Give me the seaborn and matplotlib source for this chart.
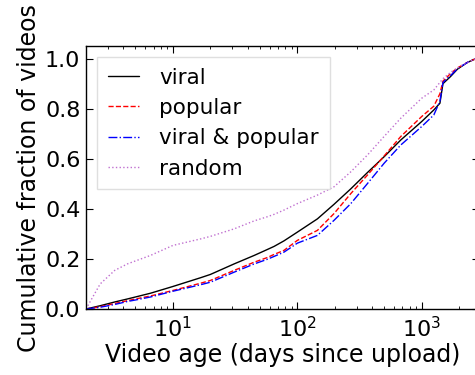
import numpy as np
import pandas as pd
import matplotlib
matplotlib.use("Agg")
import matplotlib.pyplot as plt
import seaborn as sns

# Video age grid (days since upload)
days = [2, 2.6, 3.4, 4.3, 5, 6.6, 10, 16.7, 20, 31, 45, 57, 65, 78, 100,
        145, 197, 269, 366, 498, 678, 1000, 1250, 1400, 1480, 1700, 1936,
        2330, 2720, 2900]

# Cumulative fraction of videos per group
viral = [0, .013, .028, .04, .048, .063, .09, .125, .138, .18, .214, .237,
         .25, .272, .307, .36, .418, .48, .545, .608, .675, .749, .795, .822,
         .900, .928, .958, .985, 1.0, 1.0]
popular = [0, .009, .022, .033, .04, .052, .074, .103, .114, .154, .187,
           .205, .218, .234, .274, .314, .381, .461, .535, .611, .689, .769,
           .81, .86, .91, .94, .963, .985, 1.0, 1.0]
viral_popular = [0, .007, .018, .03, .036, .048, .071, .097, .107, .147, .18,
                 .198, .21, .227, .263, .294, .354, .421, .501, .582, .655,
                 .729, .775, .83, .905, .932, .96, .985, 1.0, 1.0]
random_vids = [0, .10, .154, .18, .192, .214, .254, .28, .29, .32, .352,
               .368, .378, .395, .421, .455, .488, .548, .615, .689, .762,
               .842, .875, .905, .92, .945, .963, .985, 1.0, 1.0]

labels = ["viral", "popular", "viral & popular", "random"]
series = [viral, popular, viral_popular, random_vids]
colors = ["black", "red", "blue", "#c070d0"]
styles = ["-", "--", "-.", ":"]

sns.set_style("ticks")
plt.rcParams["font.family"] = ["DejaVu Sans"]
plt.rcParams.update({
    "text.color": "black",
    "axes.labelcolor": "black",
    "xtick.color": "black",
    "ytick.color": "black",
})

fig = plt.figure(figsize=(4.75, 3.75), dpi=100)
# the plotting area runs slightly past the right edge of the canvas
ax = fig.add_axes([0.181, 0.176, 0.828, 0.701])

for lab, ys, c, ls in zip(labels, series, colors, styles):
    df = pd.DataFrame({"days": days, "frac": ys})
    sns.lineplot(data=df, x="days", y="frac", ax=ax, color=c, linestyle=ls,
                 linewidth=1.0, label=lab, estimator=None, sort=False)

ax.set_xscale("log")
ax.set_xlim(2, 2900)
ax.set_ylim(0, 1.05)
ax.set_yticks([0.0, 0.2, 0.4, 0.6, 0.8, 1.0])
ax.set_yticklabels(["0.0", "0.2", "0.4", "0.6", "0.8", "1.0"])
ax.set_xlabel("Video age (days since upload)", fontsize=17, labelpad=1)
ax.set_ylabel("Cumulative fraction of videos", fontsize=17, labelpad=3)

for side in ["left", "right", "top", "bottom"]:
    ax.spines[side].set_visible(True)
    ax.spines[side].set_color("black")
    ax.spines[side].set_linewidth(1.0)

ax.tick_params(which="both", direction="in", top=True, right=True,
               labelsize=16, color="black")
ax.tick_params(which="major", length=5, width=0.8, pad=5)
ax.tick_params(axis="y", which="major", pad=4)
ax.tick_params(which="minor", length=2.5, width=0.6)
ax.tick_params(axis="y", which="minor", left=False, right=False)

leg = ax.legend(loc="upper left", fontsize=15.5, frameon=True, fancybox=False,
                handlelength=1.45, handletextpad=0.95, borderaxespad=0.5,
                labelspacing=0.48, borderpad=0.5)
leg.get_frame().set_edgecolor("#d8d8d8")
leg.get_frame().set_linewidth(1.0)

fig.savefig("out.png", dpi=100)
